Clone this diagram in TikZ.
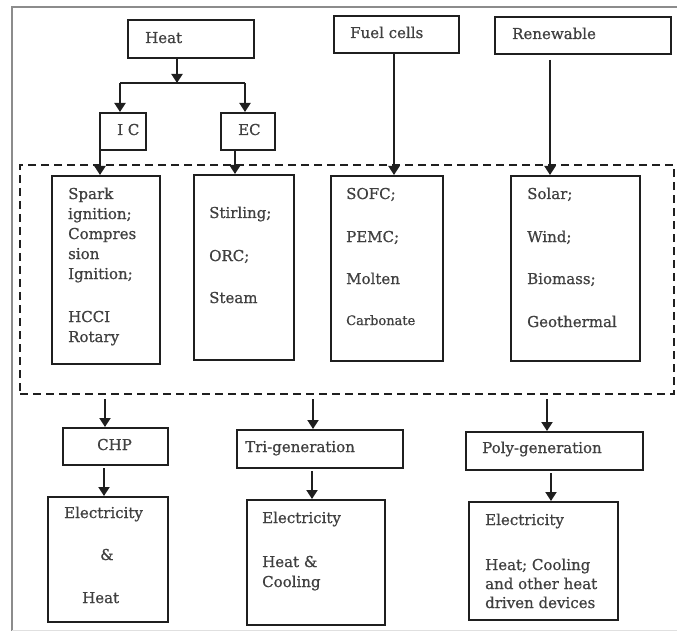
\documentclass[tikz,border=0pt]{standalone}
\usepackage{fontspec}
\setmainfont[FakeBold=0.8]{DejaVu Serif}
\usetikzlibrary{arrows.meta}
\begin{document}
\begin{tikzpicture}[x=1pt,y=-1pt,
  box/.style={draw=black!88, line width=2pt, inner sep=0pt, anchor=north west},
  dbox/.style={draw=black!88, line width=2pt, dash pattern=on 8pt off 5pt, inner sep=0pt, anchor=north west},
  txt/.style={anchor=base west, inner sep=0pt, text=black!75, font=\fontsize{15}{20}\selectfont},
  stxt/.style={txt, font=\fontsize{13}{18}\selectfont},
  link/.style={draw=black!88, line width=2pt},
  arr/.style={link, -{Triangle[length=9pt,width=11pt]}}]
\useasboundingbox (0,0) rectangle (677,631);
% outer frame
\draw[black!45, line width=2pt] (12,631) -- (12,7) -- (677,7);
\draw[black!12, line width=1pt] (12,630) -- (677,630);
% boxes
\node[box, minimum width=126pt, minimum height=38pt] (heat) at (127,19) {};
\node[box, minimum width=46pt, minimum height=37pt] (ic) at (99,112) {};
\node[box, minimum width=54pt, minimum height=37pt] (ec) at (220,112) {};
\node[box, minimum width=125pt, minimum height=37pt] (fuel) at (333,15) {};
\node[box, minimum width=176pt, minimum height=37pt] (ren) at (494,16) {};
\node[dbox, minimum width=654pt, minimum height=229pt] (dash) at (19,164) {};
\node[box, minimum width=108pt, minimum height=188pt] (b1) at (51,175) {};
\node[box, minimum width=100pt, minimum height=185pt] (b2) at (193,174) {};
\node[box, minimum width=112pt, minimum height=185pt] (b3) at (330,175) {};
\node[box, minimum width=129pt, minimum height=185pt] (b4) at (510,175) {};
\node[box, minimum width=105pt, minimum height=37pt] (chp) at (62,427) {};
\node[box, minimum width=120pt, minimum height=125pt] (e1) at (47,496) {};
\node[box, minimum width=166pt, minimum height=38pt] (tri) at (236,429) {};
\node[box, minimum width=138pt, minimum height=125pt] (e2) at (246,499) {};
\node[box, minimum width=177pt, minimum height=38pt] (poly) at (465,431) {};
\node[box, minimum width=149pt, minimum height=118pt] (e3) at (468,501) {};
% texts
\node[txt] (tHeat) at (145,43) {Heat};
\node[txt] (tIC) at (117,135) {I C};
\node[txt] (tEC) at (238,135) {EC};
\node[txt] (tFuel) at (350,38) {Fuel cells};
\node[txt] (tRen) at (512,39) {Renewable};
\node[txt] (t11) at (68,199) {Spark};
\node[txt] (t12) at (68,219) {ignition;};
\node[txt] (t13) at (68,239) {Compres};
\node[txt] (t14) at (68,259) {sion};
\node[txt] (t15) at (68,279) {Ignition;};
\node[txt] (t16) at (68,322) {HCCI};
\node[txt] (t17) at (68,342) {Rotary};
\node[txt] (t21) at (209,218) {Stirling;};
\node[txt] (t22) at (209,261) {ORC;};
\node[txt] (t23) at (209,303) {Steam};
\node[txt] (t31) at (346,199) {SOFC;};
\node[txt] (t32) at (346,242) {PEMC;};
\node[txt] (t33) at (346,284) {Molten};
\node[stxt] (t34) at (346,325) {Carbonate};
\node[txt] (t41) at (527,199) {Solar;};
\node[txt] (t42) at (527,242) {Wind;};
\node[txt] (t43) at (527,284) {Biomass;};
\node[txt] (t44) at (527,327) {Geothermal};
\node[txt] (tCHP) at (97,450) {CHP};
\node[txt] (tTri) at (245,452) {Tri-generation};
\node[txt] (tPoly) at (482,453) {Poly-generation};
\node[txt] (u11) at (64,518) {Electricity};
\node[txt] (u12) at (100,560) {\&};
\node[txt] (u13) at (82,603) {Heat};
\node[txt] (u21) at (262,523) {Electricity};
\node[txt] (u22) at (262,567) {Heat \&};
\node[txt] (u23) at (262,587) {Cooling};
\node[txt] (u31) at (485,525) {Electricity};
\node[txt] (u32) at (485,570) {Heat; Cooling};
\node[txt] (u33) at (485,589) {and other heat};
\node[txt] (u34) at (485,608) {driven devices};
% connectors
\coordinate (jh) at (177,83);
\coordinate (jl) at (120,83);
\coordinate (jr) at (245,83);
\draw[arr] (jh |- heat.south) -- (jh);
\draw[link] (jl) -- (jr);
\draw[arr] (jl) -- (jl |- ic.north);
\draw[arr] (jr) -- (jr |- ec.north);
\coordinate (xa) at (100,0);
\coordinate (xb) at (235,0);
\coordinate (xc) at (394,0);
\coordinate (xd) at (550,0);
\draw[arr] (xa |- ic.south) -- (xa |- b1.north);
\draw[arr] (xb |- ec.south) -- (xb |- b2.north);
\draw[arr] (xc |- fuel.south) -- (xc |- b3.north);
\draw[arr, shorten <=5pt] (xd |- ren.south) -- (xd |- b4.north);
\coordinate (ya) at (105,0);
\coordinate (yb) at (313,0);
\coordinate (yc) at (547,0);
\coordinate (za) at (104,0);
\coordinate (zb) at (312,0);
\coordinate (zc) at (551,0);
\draw[arr, shorten <=4pt] (ya |- dash.south) -- (ya |- chp.north);
\draw[arr, shorten <=4pt] (yb |- dash.south) -- (yb |- tri.north);
\draw[arr, shorten <=4pt] (yc |- dash.south) -- (yc |- poly.north);
\draw[arr, shorten <=2pt] (za |- chp.south) -- (za |- e1.north);
\draw[arr, shorten <=2pt] (zb |- tri.south) -- (zb |- e2.north);
\draw[arr, shorten <=2pt] (zc |- poly.south) -- (zc |- e3.north);
\end{tikzpicture}
\end{document}
